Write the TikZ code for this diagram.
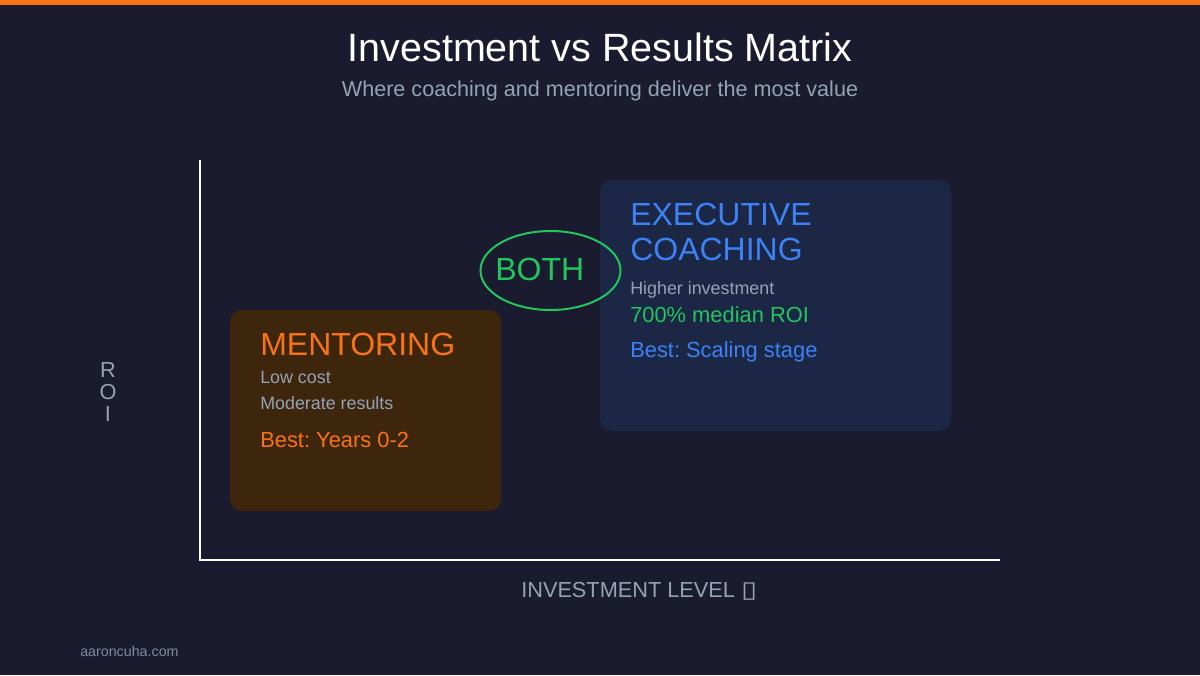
\documentclass[tikz,border=0pt]{standalone}
\usepackage{fontspec}
\setmainfont{Liberation Sans}
\newfontfamily\symfont{DejaVu Sans}
\frenchspacing
\definecolor{bg}{RGB}{26,27,46}
\definecolor{accent}{RGB}{249,115,22}
\definecolor{muted}{RGB}{148,163,184}
\definecolor{faint}{RGB}{128,138,162}
\definecolor{exblue}{RGB}{59,130,246}
\definecolor{okgreen}{RGB}{34,197,94}
\definecolor{mentorfill}{RGB}{61,38,12}
\definecolor{execfill}{RGB}{27,39,68}
\tikzset{
  >=latex,
}
\tikzstyle{txt}=[inner sep=0pt,anchor=base west]
\tikzstyle{axis}=[white,line width=1.5pt]
\tikzstyle{quad}=[rounded corners=9pt]
\tikzstyle{head}=[txt,font=\fontsize{24}{26}\selectfont]
\tikzstyle{small}=[txt,muted,font=\fontsize{13.4}{15}\selectfont]
\tikzstyle{best}=[txt,font=\fontsize{16.4}{18}\selectfont]

\begin{document}
\begin{tikzpicture}[x=0.75pt,y=-0.75pt]
    \fill[bg] (0,0) rectangle (1200,675);
    \useasboundingbox (0,0) rectangle (1200,675);
    \fill[accent] (0,0) rectangle (1200,5);
    \node[txt,anchor=base,white,font=\fontsize{29.6}{32}\selectfont] (title) at (600,61) {Investment vs Results Matrix};
    \node[txt,anchor=base,muted,font=\fontsize{16.2}{18}\selectfont] (subtitle) at (600,96) {Where coaching and mentoring deliver the most value};
    % axes
    \coordinate (ytop) at (200,160);
    \coordinate (origin) at (200,560);
    \coordinate (xend) at (1000,560);
    \draw[axis] (ytop) -- (origin) -- (xend);
    \foreach \ch/\yy in {R/377,O/399,I/421}
      \node[txt,anchor=base,muted,font=\fontsize{16.3}{18}\selectfont] (roi-\ch) at (108,\yy) {\ch};
    \node[txt,muted,font=\fontsize{16.3}{18}\selectfont] (xlabel) at (521,597) {INVESTMENT LEVEL {\symfont\scalebox{1.35}[1.05]{▯}}};
    % mentoring
    \fill[mentorfill,quad] (230,310) rectangle (501,511);
    \node[head,accent] (mentor) at (260,355) {MENTORING};
    \node[small] (lowcost) at (260,383) {Low cost};
    \node[small] (moderate) at (260,409) {Moderate results};
    \node[best,accent] (mentorbest) at (260,447) {Best: Years 0-2};
    % executive coaching
    \fill[execfill,quad] (600,180) rectangle (951,431);
    \node[head,exblue] (exec) at (630,225) {EXECUTIVE};
    \node[head,exblue] (coach) at (630,260) {COACHING};
    \node[small] (higher) at (630,294) {Higher investment};
    \node[best,okgreen] (median) at (630,322) {700\% median ROI};
    \node[best,exblue] (execbest) at (630,357) {Best: Scaling stage};
    % overlap
    \draw[okgreen,line width=1.5pt] (550.5,270.5) ellipse [x radius=70,y radius=39.5];
    \node[head,okgreen] (both) at (495,280.5) {BOTH};
    \node[txt,faint,font=\fontsize{10.7}{12}\selectfont] (footer) at (80,656.5) {aaroncuha.com};
\end{tikzpicture}
\end{document}
